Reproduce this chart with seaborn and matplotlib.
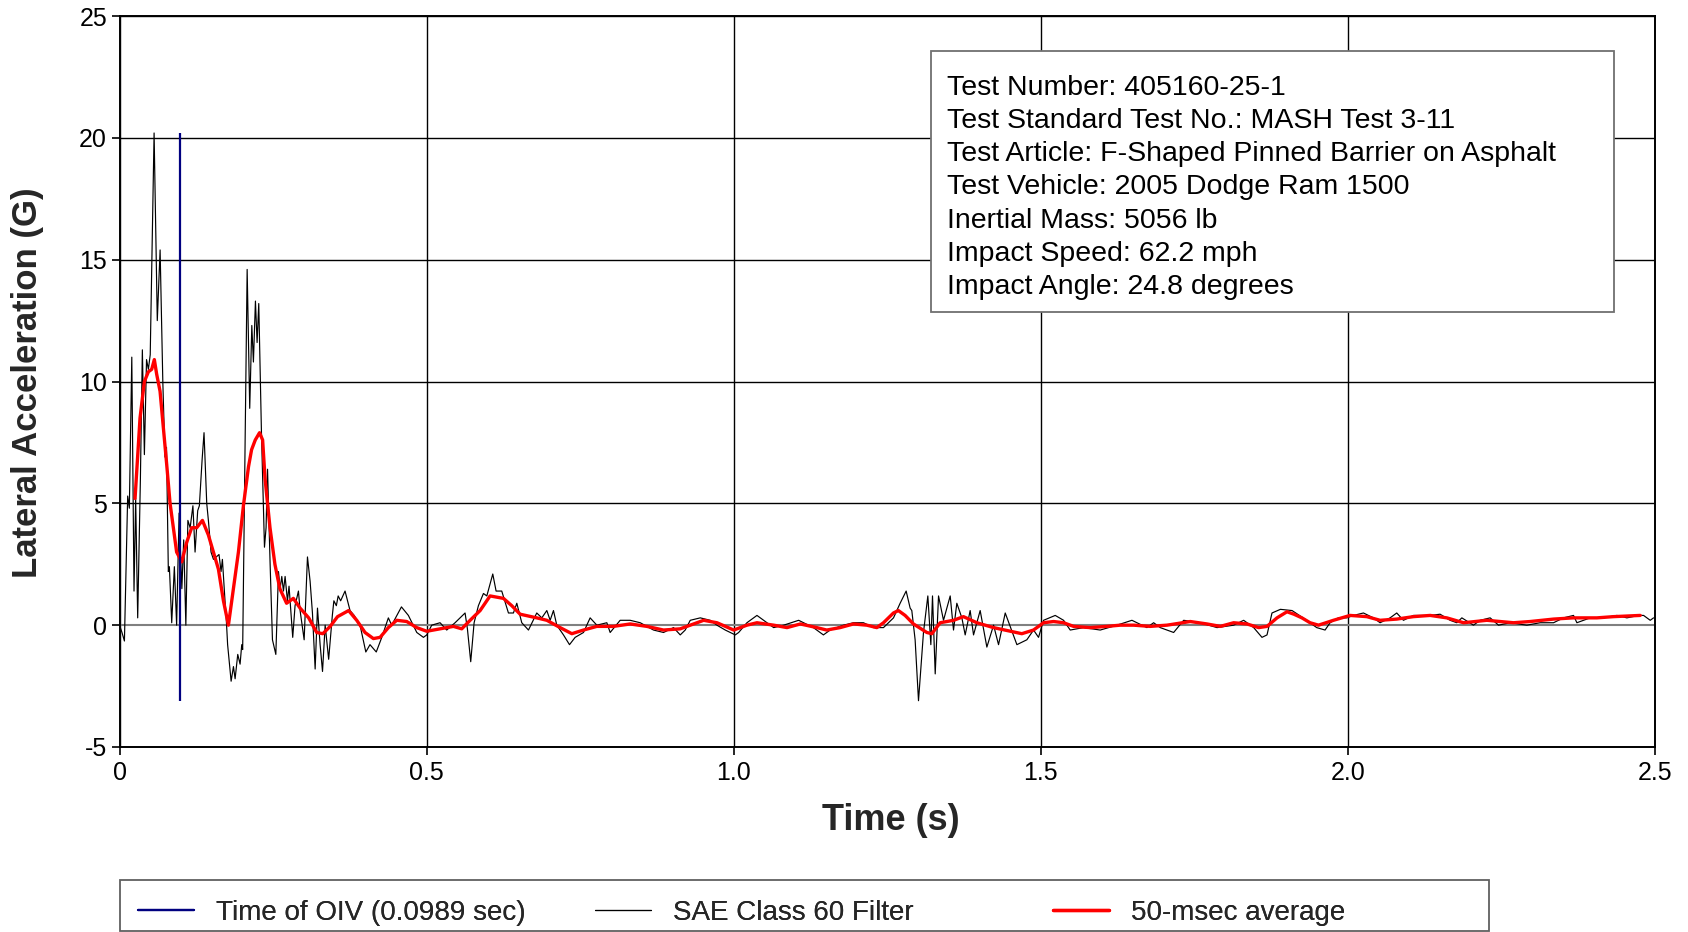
import matplotlib
matplotlib.use("Agg")
import matplotlib.pyplot as plt
from matplotlib.patches import Rectangle
from matplotlib.ticker import MultipleLocator, FixedLocator, FixedFormatter
import seaborn as sns
import numpy as np
import pandas as pd

# ---------------- data ----------------
t_raw = [0.000, 0.004, 0.008, 0.0133, 0.016, 0.020, 0.0236, 0.0263, 0.0296, 0.034,
         0.0372, 0.0405, 0.044, 0.047, 0.050, 0.0563, 0.0615, 0.0661, 0.0705, 0.074,
         0.0765, 0.0795, 0.0812, 0.085, 0.0893, 0.093, 0.097, 0.1015, 0.1045, 0.108,
         0.1113, 0.115, 0.1195, 0.1230, 0.1273, 0.130, 0.1345, 0.1376, 0.1420, 0.1447,
         0.149, 0.153, 0.162, 0.1653, 0.1675, 0.172, 0.1735, 0.176, 0.1817, 0.1855,
         0.1882, 0.1925, 0.1963, 0.199, 0.2005, 0.2078, 0.212, 0.2154, 0.218, 0.2213,
         0.224, 0.2267, 0.231, 0.236, 0.2386, 0.241, 0.2452, 0.249, 0.2545, 0.2588,
         0.2615, 0.2642, 0.2669, 0.2696, 0.2734, 0.276, 0.282, 0.2858, 0.2913, 0.294,
         0.3006, 0.306, 0.3103, 0.3141, 0.3185, 0.3223, 0.3266, 0.3305, 0.3348, 0.3405,
         0.3465, 0.349, 0.353, 0.356, 0.360, 0.3672, 0.3753, 0.382, 0.3916, 0.401,
         0.4078, 0.418, 0.427, 0.4377, 0.4431, 0.459, 0.4703, 0.484, 0.4948, 0.5002,
         0.5083, 0.5219, 0.5327, 0.5463, 0.5626, 0.5664, 0.5718, 0.5773, 0.5843, 0.5925,
         0.598, 0.6077, 0.6131, 0.6223, 0.6332, 0.6413, 0.6468, 0.6549, 0.6658, 0.6793,
         0.6875, 0.6957, 0.7011, 0.7065, 0.7119, 0.7228, 0.7326, 0.7418, 0.7554, 0.7662,
         0.7771, 0.7934, 0.7988, 0.8151, 0.8314, 0.8477, 0.8694, 0.8857, 0.902, 0.9129,
         0.921, 0.9292, 0.9455, 0.9617, 0.9726, 0.9862, 1.0025, 1.008, 1.0215, 1.0378,
         1.0487, 1.065, 1.0813, 1.1057, 1.1297, 1.146, 1.1569, 1.1786, 1.1949, 1.2112,
         1.2275, 1.2438, 1.2601, 1.2709, 1.2807, 1.2872, 1.2899, 1.2953, 1.3008, 1.3089,
         1.316, 1.3209, 1.3236, 1.328, 1.3334, 1.3415, 1.3524, 1.3578, 1.3632, 1.3714,
         1.3768, 1.3849, 1.3904, 1.4012, 1.4121, 1.423, 1.4311, 1.442, 1.461, 1.4772,
         1.4881, 1.4962, 1.5044, 1.5234, 1.537, 1.5478, 1.5696, 1.5967, 1.6239, 1.6483,
         1.6727, 1.6836, 1.6944, 1.7162, 1.7325, 1.7596, 1.7868, 1.8139, 1.8302, 1.8465,
         1.86, 1.8682, 1.8763, 1.89, 1.909, 1.9328, 1.9491, 1.9627, 1.9709, 1.9844,
         1.998, 2.0089, 2.0252, 2.0414, 2.0523, 2.0686, 2.0794, 2.0903, 2.1066, 2.1175,
         2.1338, 2.15, 2.1663, 2.1772, 2.1854, 2.2043, 2.2152, 2.2315, 2.2451, 2.2641,
         2.2912, 2.3129, 2.3347, 2.3509, 2.3672, 2.3727, 2.3944, 2.4161, 2.4378, 2.4541,
         2.4731, 2.4813, 2.4921, 2.4975]
g_raw = [0.0, -0.3, -0.65, 5.3, 4.8, 11.0, 1.4, 5.2, 0.3, 6.0,
         11.3, 7.0, 10.9, 10.5, 11.1, 20.2, 12.5, 15.4, 10.0, 6.9,
         7.3, 2.2, 2.4, 0.1, 2.4, 0.0, 4.6, 1.5, 3.5, 0.0,
         4.3, 4.0, 4.9, 3.0, 4.7, 4.9, 6.8, 7.9, 5.0, 4.3,
         3.0, 2.7, 2.9, 2.2, 2.7, 0.9, 0.4, -0.8, -2.3, -1.7,
         -2.2, -1.2, -1.6, -0.8, -1.0, 14.6, 8.9, 12.3, 10.8, 13.3,
         11.6, 13.2, 8.0, 3.2, 4.0, 6.4, 2.5, -0.6, -1.2, 2.2,
         1.5, 2.0, 1.4, 2.0, 1.0, 1.6, -0.5, 0.8, 1.4, 0.6,
         -0.6, 2.8, 1.8, 0.5, -1.8, 0.7, -0.8, -1.9, 0.0, -1.4,
         0.4, 1.0, 0.8, 1.2, 1.0, 1.4, 0.6, 0.4, 0.0, -1.1,
         -0.8, -1.1, -0.5, 0.3, 0.0, 0.75, 0.4, -0.3, -0.5, -0.4,
         0.0, 0.1, -0.2, 0.1, 0.5, -0.15, -1.5, 0.1, 0.8, 1.3,
         1.2, 2.1, 1.4, 1.4, 0.5, 0.5, 0.9, 0.1, -0.2, 0.5,
         0.3, 0.6, 0.2, 0.6, 0.0, -0.4, -0.8, -0.5, -0.3, 0.3,
         0.0, 0.1, -0.3, 0.2, 0.2, 0.1, -0.2, -0.3, -0.1, -0.4,
         -0.2, 0.2, 0.3, 0.2, 0.0, -0.2, -0.4, -0.3, 0.1, 0.4,
         0.2, -0.1, 0.0, 0.2, -0.1, -0.4, -0.2, 0.0, 0.1, 0.1,
         -0.1, -0.1, 0.3, 0.9, 1.4, 0.7, 0.6, -0.6, -3.1, -0.3,
         1.2, -0.8, 1.2, -2.0, 1.2, 0.2, 1.2, -0.2, 0.9, 0.3,
         -0.4, 0.6, -0.4, 0.6, -0.9, 0.0, -0.8, 0.5, -0.8, -0.6,
         -0.2, -0.5, 0.2, 0.4, 0.2, -0.2, -0.1, -0.2, 0.0, 0.2,
         -0.1, 0.1, -0.1, -0.3, 0.2, 0.1, -0.1, 0.0, 0.2, -0.1,
         -0.5, -0.4, 0.5, 0.65, 0.6, 0.2, -0.1, -0.2, 0.1, 0.3,
         0.3, 0.4, 0.5, 0.3, 0.1, 0.3, 0.5, 0.2, 0.4, 0.4,
         0.4, 0.45, 0.2, 0.1, 0.3, 0.0, 0.2, 0.3, 0.0, 0.1,
         0.0, 0.1, 0.1, 0.3, 0.4, 0.1, 0.3, 0.3, 0.4, 0.3,
         0.4, 0.4, 0.2, 0.3]

t_avg = [0.0253, 0.0334, 0.0405, 0.047, 0.0524, 0.0567, 0.0605, 0.066, 0.0714, 0.0768,
         0.0823, 0.0877, 0.093, 0.1013, 0.1094, 0.1175, 0.1257, 0.135, 0.1447, 0.1529,
         0.161, 0.1692, 0.1773, 0.1854, 0.1936, 0.2017, 0.21, 0.215, 0.221, 0.228,
         0.233, 0.237, 0.245, 0.253, 0.261, 0.272, 0.283, 0.294, 0.308, 0.321,
         0.331, 0.343, 0.355, 0.373, 0.3862, 0.3997, 0.4133, 0.4242, 0.4377, 0.4513,
         0.4676, 0.4839, 0.5002, 0.5219, 0.5436, 0.5572, 0.5708, 0.5871, 0.6033, 0.625,
         0.6386, 0.6522, 0.6793, 0.6957, 0.7174, 0.7364, 0.7554, 0.7771, 0.8043, 0.8314,
         0.8586, 0.8857, 0.9129, 0.9292, 0.951, 0.9727, 1.0, 1.0215, 1.0378, 1.065,
         1.0867, 1.1084, 1.1352, 1.1514, 1.1732, 1.1949, 1.2166, 1.2329, 1.2438, 1.26,
         1.268, 1.279, 1.2926, 1.3143, 1.3225, 1.3361, 1.3578, 1.374, 1.3958, 1.4229,
         1.4501, 1.469, 1.488, 1.5044, 1.5207, 1.537, 1.5533, 1.5804, 1.6076, 1.6293,
         1.651, 1.6781, 1.7053, 1.7433, 1.7705, 1.7922, 1.8139, 1.8356, 1.8546, 1.8682,
         1.8845, 1.9007, 1.912, 1.925, 1.9383, 1.952, 1.9763, 2.0034, 2.0306, 2.0523,
         2.0794, 2.1066, 2.1338, 2.1609, 2.1881, 2.2261, 2.2695, 2.2967, 2.3347, 2.3672,
         2.4052, 2.4324, 2.4758]
g_avg = [5.2, 8.5, 10.0, 10.4, 10.5, 10.9, 10.3, 9.6, 8.1, 6.6,
         5.0, 4.0, 3.0, 2.6, 3.4, 4.0, 4.0, 4.3, 3.7, 3.0,
         2.3, 1.0, 0.0, 1.5, 3.0, 4.9, 6.5, 7.2, 7.6, 7.9,
         7.6, 6.0, 4.0, 2.5, 1.5, 0.9, 1.1, 0.7, 0.3, -0.3,
         -0.35, -0.05, 0.35, 0.6, 0.2, -0.3, -0.55, -0.5, -0.1, 0.2,
         0.15, -0.1, -0.25, -0.15, -0.05, -0.15, 0.2, 0.6, 1.2, 1.1,
         0.8, 0.45, 0.3, 0.2, -0.1, -0.35, -0.2, -0.05, -0.05, 0.05,
         -0.05, -0.2, -0.15, 0.0, 0.2, 0.1, -0.2, 0.0, 0.1, 0.0,
         -0.1, 0.05, -0.1, -0.2, -0.1, 0.05, 0.0, -0.1, 0.1, 0.5,
         0.6, 0.4, 0.05, -0.3, -0.35, 0.1, 0.2, 0.35, 0.1, -0.1,
         -0.25, -0.35, -0.2, 0.1, 0.15, 0.1, -0.05, -0.1, -0.05, 0.0,
         0.0, -0.05, 0.0, 0.15, 0.05, -0.05, 0.1, 0.05, -0.1, -0.05,
         0.3, 0.55, 0.45, 0.3, 0.1, 0.0, 0.2, 0.4, 0.35, 0.2,
         0.25, 0.35, 0.4, 0.3, 0.1, 0.2, 0.1, 0.15, 0.25, 0.3,
         0.3, 0.35, 0.4]

oiv_time = 0.0989
series_labels = ["Time of OIV (0.0989 sec)", "SAE Class 60 Filter", "50-msec average"]
x_tick_values = [0, 0.5, 1.0, 1.5, 2.0, 2.5]
x_tick_labels = ["0", "0.5", "1.0", "1.5", "2.0", "2.5"]
y_tick_values = [-5, 0, 5, 10, 15, 20, 25]
y_tick_labels = ["-5", "0", "5", "10", "15", "20", "25"]
info_lines = [
    "Test Number: 405160-25-1",
    "Test Standard Test No.: MASH Test 3-11",
    "Test Article: F-Shaped Pinned Barrier on Asphalt",
    "Test Vehicle: 2005 Dodge Ram 1500",
    "Inertial Mass: 5056 lb",
    "Impact Speed: 62.2 mph",
    "Impact Angle: 24.8 degrees",
]

# ---------------- style ----------------
sns.set_style("white")
plt.rcParams["font.family"] = ["Liberation Sans", "DejaVu Sans"]

fig = plt.figure(figsize=(16.88, 9.32), dpi=100)
ax = fig.add_axes([0.0708, 0.1985, 0.9097, 0.7843])

raw_df = pd.DataFrame({"t": t_raw, "g": g_raw})
avg_df = pd.DataFrame({"t": t_avg, "g": g_avg})

sns.lineplot(data=raw_df, x="t", y="g", ax=ax, color="black", linewidth=0.85,
             estimator=None, sort=False, legend=False, zorder=3)
sns.lineplot(data=avg_df, x="t", y="g", ax=ax, color="#ff0000", linewidth=2.4,
             estimator=None, sort=False, legend=False, zorder=4)
ax.vlines(oiv_time, min(g_raw), max(g_raw), color="#000080", linewidth=1.6, zorder=5)

raw_line = ax.get_lines()[0]
avg_line = ax.get_lines()[1]
oiv_handle = plt.Line2D([], [], color="#000080", linewidth=1.6)

ax.set_xlim(0, 2.5)
ax.set_ylim(-5, 25)
ax.xaxis.set_major_locator(FixedLocator(x_tick_values))
ax.xaxis.set_major_formatter(FixedFormatter(x_tick_labels))
ax.yaxis.set_major_locator(FixedLocator(y_tick_values))
ax.yaxis.set_major_formatter(FixedFormatter(y_tick_labels))
ax.xaxis.set_minor_locator(MultipleLocator(0.1))
ax.yaxis.set_minor_locator(MultipleLocator(1))

ax.tick_params(axis="both", which="major", direction="out", length=6, width=1.2,
               labelsize=18, colors="black", pad=3)
ax.tick_params(axis="both", which="minor", direction="out", length=4, width=1.0,
               colors="black")
ax.tick_params(axis="x", which="major", pad=4)
ax.tick_params(left=True, bottom=True)

for s in ax.spines.values():
    s.set_visible(True)
    s.set_color("black")
    s.set_linewidth(1.4)

ax.grid(True, which="major", color="black", linewidth=1.0)
ax.set_axisbelow(True)
for val, gl in zip(y_tick_values, ax.yaxis.get_gridlines()):
    if val == 0:
        gl.set_color("#808080")
        gl.set_linewidth(1.5)

ax.set_xlabel("Time (s)", fontsize=26, fontweight="bold")
ax.set_ylabel("Lateral Acceleration (G)", fontsize=25, fontweight="bold")
ax.xaxis.set_label_coords(0.502, -0.077)
ax.yaxis.set_label_coords(-0.049, 0.499)

# info box
ax.add_patch(Rectangle((0.5285, 0.595), 0.4448, 0.357, transform=ax.transAxes,
                       facecolor="white", edgecolor="#707070", linewidth=1.3, zorder=6))
ax.text(0.539, 0.920, "\n".join(info_lines), transform=ax.transAxes, va="top", ha="left",
        fontsize=20.5, linespacing=1.365, color="black", zorder=7)

# legend (three equally spaced entries inside one frame)
fig.patches.append(Rectangle((0.0708, 0.0015), 0.8113, 0.0545, transform=fig.transFigure,
                             fill=False, edgecolor="#606060", linewidth=1.3))
handles = [oiv_handle, raw_line, avg_line]
x_pos = [0.0818, 0.3525, 0.6238]
for h, lab, xp in zip(handles, series_labels, x_pos):
    leg = fig.legend(handles=[h], labels=[lab], loc="center left",
                     bbox_to_anchor=(xp, 0.0205), frameon=False, fontsize=20,
                     handlelength=2.0, handletextpad=0.8, borderpad=0, borderaxespad=0)
    fig.add_artist(leg)

fig.savefig("out.png", dpi=100)
